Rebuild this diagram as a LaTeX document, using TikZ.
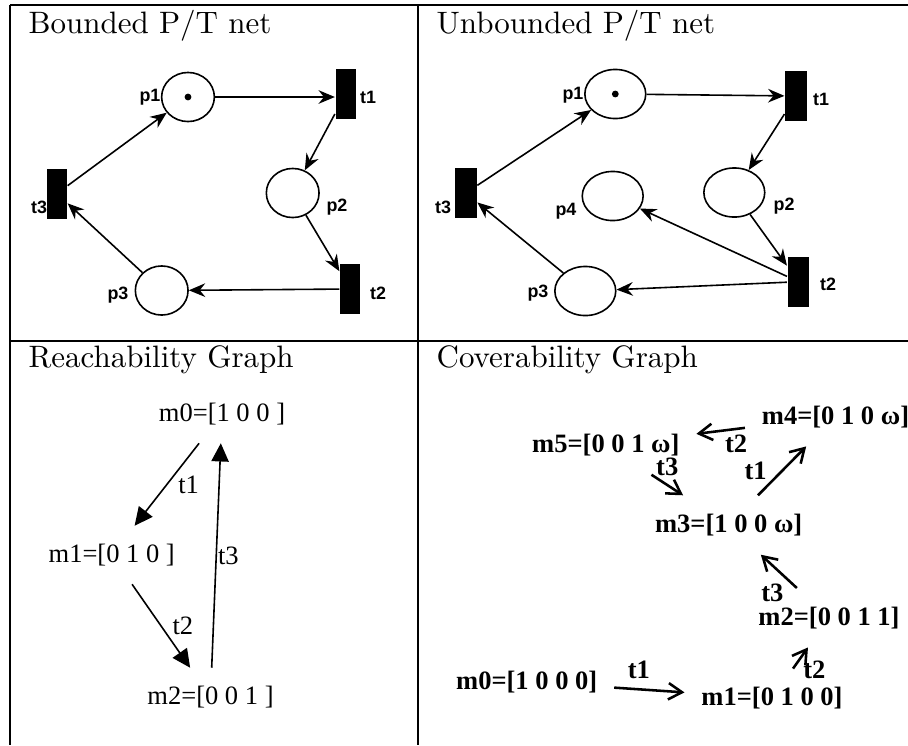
\documentclass[tikz,border=0pt]{standalone}
\usepackage{fontspec}
\usepackage{tikz}
\usetikzlibrary{
  arrows.meta,
  positioning,
  shapes.geometric
}
\newfontfamily\netfont{Liberation Sans}
\newfontfamily\graphfont{Liberation Serif}

\begin{document}
\begin{tikzpicture}[
x=0.011cm,
y=-0.011cm,
frame/.style={line width=0.9pt},
paneltitle/.style={anchor=base west, inner sep=0pt, font=\fontsize{9.7}{12}\selectfont},
place/.style={
ellipse,
draw,
line width=0.5pt,
minimum width=0.58cm,
minimum height=0.54cm,
inner sep=0pt
},
trans/.style={
rectangle,
fill=black,
minimum width=0.22cm,
minimum height=0.55cm,
inner sep=0pt
},
token/.style={circle, fill=black, minimum size=0.075cm, inner sep=0pt},
netlabel/.style={font=\netfont\bfseries\fontsize{5.6}{6.7}\selectfont, inner sep=0pt},
arc/.style={-{Stealth[length=1.8mm, width=1.5mm, inset=0.6mm]}, line width=0.5pt},
rgstate/.style={
font=\graphfont\fontsize{8.3}{10}\selectfont,
inner xsep=0pt,
inner ysep=0pt,
minimum height=0.63cm
},
rglabel/.style={font=\graphfont\fontsize{8.3}{10}\selectfont},
rgarc/.style={-{Triangle[length=2mm, width=1.9mm]}, line width=0.5pt},
cgstate/.style={
font=\graphfont\bfseries\fontsize{8.3}{10}\selectfont,
inner xsep=0.18cm,
inner ysep=0pt,
minimum height=0.64cm
},
cglabel/.style={font=\graphfont\bfseries\fontsize{8.3}{10}\selectfont, inner sep=1pt},
cgarc/.style={-{Straight Barb[length=1.5mm, width=1.8mm]}, line width=0.8pt}
]
\useasboundingbox (0,0) rectangle (908,745);

% Frame - top row closed, bottom row open below
\draw[frame] (10,5) -- (908,5);
\draw[frame] (10,341) -- (908,341);
\draw[frame] (10,5) -- (10,745);
\draw[frame] (418,5) -- (418,745);

\node[paneltitle] (title1) at (28,33) {Bounded P/T net};
\node[paneltitle] (title2) at (436,33) {Unbounded P/T net};
\node[paneltitle] (title3) at (28,367) {Reachability Graph};
\node[paneltitle] (title4) at (436,367) {Coverability Graph};

% Bounded net
\node[place] (bp1) at (188,97) {};
\node[token] (bk1) at (bp1) {};
\node[trans] (bt1) at (345.5,94) {};
\node[place] (bp2) at (292.7,193) {};
\node[trans] (bt2) at (350,289) {};
\node[place] (bp3) at (161.7,290.5) {};
\node[trans] (bt3) at (57,193.5) {};

\node[netlabel] (lbp1) at (150,97) {p1};
\node[netlabel] (lbt1) at (368,97) {t1};
\node[netlabel] (lbp2) at (337,207) {p2};
\node[netlabel] (lbt2) at (378,293) {t2};
\node[netlabel] (lbp3) at (118,295) {p3};
\node[netlabel] (lbt3) at (39,207) {t3};

\draw[arc] (bp1) -- (bp1 -| bt1.west);
\draw[arc] (bt1) -- (bp2);
\draw[arc] (bp2) -- (bt2);
\draw[arc] (bt2) -- (bp3);
\draw[arc] (bp3) -- (bt3);
\draw[arc] (bt3) -- (bp1);

% Unbounded net
\begin{scope}[
place/.append style={minimum width=0.67cm},
trans/.append style={minimum width=0.24cm}
]
\node[place] (up1) at (615.3,94) {};
\node[token] (uk1) at (up1) {};
\node[trans] (ut1) at (796,96) {};
\node[place] (up2) at (734.3,192.5) {};
\node[place] (up4) at (612.7,196) {};
\node[trans] (ut2) at (798.5,281.7) {};
\node[place] (up3) at (585.3,291) {};
\node[trans] (ut3) at (465.8,193) {};
\end{scope}

\node[netlabel] (lup1) at (573,95) {p1};
\node[netlabel] (lut1) at (821,99) {t1};
\node[netlabel] (lup2) at (784,206) {p2};
\node[netlabel] (lup4) at (566,211) {p4};
\node[netlabel] (lut2) at (828,284) {t2};
\node[netlabel] (lup3) at (538,293) {p3};
\node[netlabel] (lut3) at (443,207) {t3};

\draw[arc] (up1) -- (ut1);
\draw[arc] (ut1) -- (up2);
\draw[arc] (up2) -- (ut2);
\draw[arc] (ut2) -- (up4);
\draw[arc] (ut2) -- (up3);
\draw[arc] (up3) -- (ut3);
\draw[arc] (ut3) -- (up1);

% Reachability graph
\node[rgstate] (r0) at (222,414) {m0=[1 0 0 ]};
\node[rgstate] (r1) at (111.7,555) {m1=[0 1 0 ]};
\node[rgstate] (r2) at (210.5,697) {m2=[0 0 1 ]};

\draw[rgarc] (r0) -- node[rglabel, right] {t1} (r1);
\draw[rgarc] (r1) -- node[rglabel, right] {t2} (r2);
\draw[rgarc] (r2) -- node[rglabel, right, inner sep=0.3pt] {t3} (r0);

% Coverability graph
\node[cgstate] (c4) at (835.5,416.7) {m4=[0 1 0 ω]};
\node[cgstate] (c5) at (605.8,445) {m5=[0 0 1 ω]};
\node[cgstate] (c3) at (728.7,525) {m3=[1 0 0 ω]};
\node[cgstate] (c2) at (829,617.7) {m2=[0 0 1 1]};
\node[cgstate] (c0) at (526.7,681.7) {m0=[1 0 0 0]};
\node[cgstate] (c1) at (772,698.3) {m1=[0 1 0 0]};

\draw[cgarc] (c0) -- node[cglabel, above, pos=0.35, inner sep=3pt] {t1} (c1);
\draw[cgarc] (c1) -- node[cglabel, below right, pos=0.5, inner sep=0.5pt] {t2} (c2);
\draw[cgarc] (c2) -- node[cglabel, below left, pos=0.25] {t3} (c3);
\draw[cgarc] (c3) -- node[cglabel, left=0.12cm] {t1} (c4);
\draw[cgarc] (c4) -- node[cglabel, below right] {t2} (c5);
\draw[cgarc] (c5) -- node[cglabel, above=0.05cm] {t3} (c3);

\end{tikzpicture}
\end{document}
